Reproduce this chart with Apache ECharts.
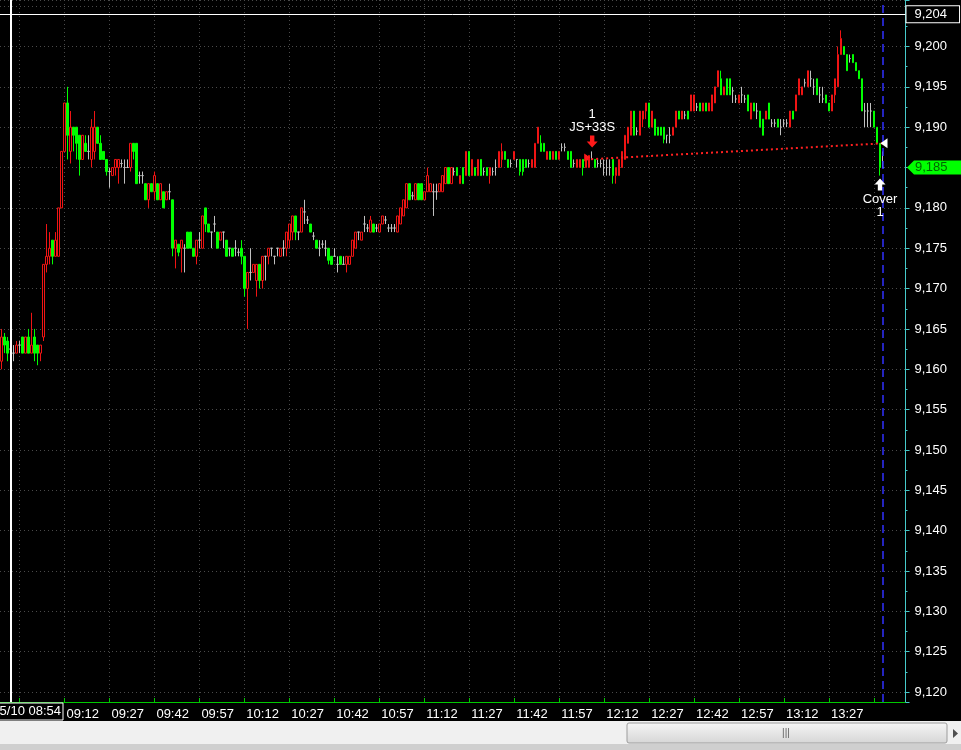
<!DOCTYPE html>
<html>
<head>
<meta charset="utf-8">
<script src="https://cdn.jsdelivr.net/npm/echarts@6/dist/echarts.min.js"></script>
<style>
html,body{margin:0;padding:0;background:#000;}
#chart{width:961px;height:750px;}
</style>
</head>
<body>
<div id="chart"></div>
<script>
// ---- categories: one-minute bars from 08:51, plus empty slots up to the price scale ----
const firstMinute = 8 * 60 + 51;
const barCount = 302;
const times = [];
for (let i = 0; i < barCount; i++) {
  const m = firstMinute + i;
  times.push(String(Math.floor(m / 60)).padStart(2, '0') + ':' + String(m % 60).padStart(2, '0'));
}

// ---- OHLC values (08:51 .. 13:45) ----
const opens = [
 9161,9164,9163.5,9162.5,9162,9162,9163,9164,9162,9164,
 9162,9164,9163,9162,9164,9173,9174,9176,9174,9174,
 9180,9187,9193,9187,9190,9190,9189,9186,9188,9187,
 9186,9187,9190,9188,9187,9186,9184.5,9184,9185,9185,
 9185.5,9185,9185,9185,9188,9188,9184,9184,9183,9181,
 9183,9182,9183,9181,9182,9181,9182,9181,9175,9175.5,
 9175,9175,9177,9177,9175,9174,9176,9175,9180,9178,
 9177,9178,9177,9176,9177,9176,9175,9175,9175,9174.5,
 9175,9174,9170,9172,9172,9171,9173,9171,9174,9174,
 9175,9174,9175,9174,9175,9175,9176,9177,9179,9177,
 9177,9179.5,9178.5,9178,9176.5,9176,9175,9175.5,9175,9175,
 9174,9174,9173,9174,9173,9173,9173,9174,9175,9177,
 9176,9178,9177.5,9177,9178,9177.5,9177,9178,9178.5,9177.5,
 9177.5,9177.5,9177,9178,9179,9180,9183,9181.5,9181,9183,
 9183,9181,9182,9182,9182,9182,9182,9182,9183,9185,
 9183,9184.5,9185,9183,9185,9184,9187,9184,9185,9184,
 9186,9184.5,9185,9184,9184.5,9185,9185,9186,9187,9186,
 9185.5,9186,9186,9186,9186,9186,9185.5,9185,9185,9188,
 9188,9188,9186,9187,9186,9187,9186,9187.5,9187.5,9187,
 9187,9185.5,9185,9185,9186,9185,9185,9186,9186,9185.5,
 9185.5,9185,9185,9185,9186,9184,9184,9185,9186,9188,
 9189,9192,9189.5,9189,9191,9192,9193,9190,9191,9190,
 9190,9190,9189,9189,9189,9190,9192,9191,9191.5,9192,
 9192,9192,9192.5,9193,9192,9193,9192,9192,9193,9195,
 9196,9194,9196,9196,9194.5,9193.5,9193,9194,9193.5,9194,
 9191,9193,9192,9192,9191,9191,9193,9190.5,9190.5,9191,
 9190,9190.5,9190.5,9190,9192,9192,9194,9194,9195.5,9195,
 9196,9195,9196,9194,9193.5,9194,9193,9192,9194,9195,
 9199,9200,9199,9198.5,9199,9198,9197,9196,9192,9192,
 9192,9192,9190,9188,9185
];
const closes = [
 9164,9163,9162,9162.5,9162,9163,9163,9162,9164,9162,
 9163,9162,9162,9163,9173,9174,9175,9174,9176,9180,
 9187,9193,9189,9190,9189,9188,9186,9189,9187,9187,
 9190,9190,9188,9186,9186,9184.5,9184.5,9185,9186,9186,
 9185.5,9185,9185,9188,9187,9183,9184,9184,9181,9183,
 9182,9184,9181,9183,9180,9182,9182,9175,9176,9174.5,
 9176,9175,9175,9175,9174,9176,9176,9179,9178,9177,
 9177,9178,9175,9177,9177,9174,9175,9174,9175,9174.5,
 9174,9170,9172,9172,9173,9173,9171,9174,9174,9175,
 9175,9174,9175,9175,9175,9177,9178,9179,9177,9177,
 9180,9179.5,9178.5,9177,9176.5,9175,9175,9175.5,9175,9173.5,
 9173,9174,9173,9173,9173,9174,9174,9176,9177,9177,
 9177,9178,9177.5,9178.5,9177,9177.5,9178,9179,9178.5,9177.5,
 9177.5,9177.5,9179,9180,9181,9183,9181,9181.5,9183,9181,
 9181,9182,9184,9183,9182,9182,9183,9184,9185,9183,
 9185,9184.5,9184,9184,9183,9187,9184,9186,9184,9186,
 9184,9184.5,9184,9185,9184.5,9185,9187,9187,9186,9185,
 9185.5,9187,9186,9184.5,9184.5,9185,9185.5,9186,9188,9190,
 9187,9187,9187,9186,9187,9186,9187,9187.5,9187.5,9186,
 9185,9185.5,9186,9186,9185,9186.5,9186.5,9186,9185,9185.5,
 9185.5,9185,9185,9185,9184,9185,9186,9187,9189,9190,
 9192,9189,9189.5,9192,9192,9193,9190,9192,9189,9189,
 9189,9188.5,9189,9189,9190,9192,9191,9192,9191.5,9191,
 9194,9194,9192.5,9192,9193,9192,9193,9194,9195,9197,
 9194,9195,9194,9194,9194.5,9193.5,9194,9194,9193.5,9192,
 9193,9192,9192,9190,9189,9192,9191,9190.5,9190.5,9190,
 9190,9190.5,9190.5,9192,9191,9194,9196,9195,9195.5,9197,
 9196,9195,9194,9194,9193.5,9193,9192,9194,9196,9199,
 9201,9199,9197,9198.5,9198,9197,9196,9192,9192,9192,
 9192,9190,9188,9185,9185
];
const lows = [
 9160,9162,9161,9162,9161,9162,9162,9162,9162,9162,
 9162,9161,9160.5,9161,9163.5,9172,9173,9173,9174,9174,
 9180,9187,9186,9185.5,9187,9186,9184,9186,9187,9186,
 9185,9186,9188,9186,9186,9184,9182.5,9184,9184,9183,
 9185,9183,9185,9184.5,9186,9183,9183,9183,9181,9180,
 9182,9181,9181,9181,9180,9181,9181,9174,9172.5,9174,
 9172,9172,9175,9175,9174,9173,9175,9175,9177,9177,
 9175,9177,9175,9176,9175,9174,9174,9174,9174,9174,
 9173,9169,9165,9171,9172,9169,9170,9170,9171,9173,
 9174,9173,9174,9174,9174,9174,9175,9176,9176,9176,
 9177,9178,9178,9177,9176,9175,9174,9175,9174,9173,
 9173,9174,9172,9173,9173,9172,9173,9174,9175,9176,
 9176,9177,9177,9177,9177,9177,9177,9178,9178,9177,
 9177,9177,9177,9178,9179,9180,9181,9181,9181,9181,
 9181,9181,9182,9182,9179,9181,9182,9182,9183,9183,
 9183,9184,9184,9183,9183,9184,9184,9184,9184,9184,
 9184,9184,9184,9183,9184,9184,9185,9185,9186,9185,
 9185,9186,9185,9184,9184,9185,9185,9185,9185,9188,
 9187,9187,9186,9186,9186,9186,9186,9187,9187,9186,
 9185,9185,9185,9185,9184,9185,9185,9186,9185,9185,
 9185,9184,9184,9184,9183,9183,9184,9185,9186,9188,
 9189,9189,9189,9189,9190,9191,9190,9190,9189,9189,
 9189,9188,9188,9188,9189,9190,9191,9191,9191,9191,
 9192,9192,9192,9192,9192,9192,9192,9192,9193,9195,
 9194,9194,9194,9194,9193,9193,9193,9193,9193,9192,
 9191,9192,9191,9190,9189,9191,9191,9190,9190,9190,
 9189,9190,9190,9190,9191,9192,9194,9194,9195,9195,
 9195,9194,9194,9193,9193,9193,9192,9192,9193,9195,
 9199,9199,9197,9198,9198,9197,9196,9192,9190,9190,
 9190,9190,9188,9184,9185
];
const highs = [
 9165,9164.5,9164,9163,9163,9163.5,9163.5,9164,9164,9165,
 9167,9165,9163,9163,9173,9178,9177,9176,9177,9180,
 9187,9193,9195,9192,9190,9190,9189,9189,9189,9189,
 9191,9192,9190,9189,9187,9186,9185,9185,9186,9186,
 9186,9186,9186,9188,9188,9188,9184.5,9184.5,9183,9183,
 9183,9184.5,9183,9183,9182,9182,9183,9181,9176,9175.5,
 9176,9175.5,9177,9177,9175,9176,9177,9179,9180,9178,
 9177,9179,9177,9177,9177,9176,9175,9175,9176,9175,
 9176,9174,9172,9175,9173,9173,9173,9174,9174,9175,
 9175,9174,9175,9175,9176,9177,9178,9179,9179,9177,
 9180,9181,9179,9178,9177,9176,9176,9176,9176,9175,
 9174,9175,9174,9174,9174,9174,9174,9176,9177,9177,
 9177,9179,9178,9179,9178,9178,9178,9179,9179,9178,
 9178,9178,9179,9180,9181,9183,9183,9182,9183,9183,
 9183,9182,9185,9183,9183,9183,9183,9184,9185,9185,
 9185,9185,9185,9184,9185,9187,9187,9186,9185,9186,
 9186,9185,9185,9185,9185,9186,9187,9188,9187,9186,
 9186,9187,9186,9186,9186,9186,9186,9186,9188,9190,
 9189,9188,9187,9187,9187,9187,9187,9188,9188,9187,
 9187,9186,9186,9186,9186,9186.5,9186.5,9187,9186,9186,
 9186,9186,9186,9186,9186,9185,9186,9187,9189,9190,
 9192,9192,9190,9192,9192,9193,9193,9192,9191,9190,
 9190,9190,9189,9190,9190,9192,9192,9192,9192,9192,
 9194,9194,9193,9193,9193,9193,9193,9194,9195,9197,
 9197,9195,9196,9196,9195,9194,9194,9195,9194,9194,
 9193,9193,9193,9192,9191,9192,9193,9191,9191,9191,
 9191,9191,9191,9192,9192,9194,9196,9195,9196,9197,
 9197,9196,9196,9195,9195,9194,9193,9194,9196,9200,
 9202,9200,9199,9199,9199,9198,9197,9196,9193,9193,
 9193,9192,9190,9188,9187
];

// ---- annotations ----
const sessionTime = '08:54';
const dateLabel = '5/10 08:54';
const entryArrowTime = '12:08';
const entryTime = '12:06';
const entryPrice = 9186;
const exitTime = '13:45';
const exitPrice = 9188;
const coverTime = '13:44';
const highLinePrice = 9204;

// ---- axis range (price scale) ----
const yMin = 9118.77;
const yMax = 9205.76;

const candles = opens.map((o, i) => [o, closes[i], lows[i], highs[i]]);
const lastIdx = closes.length - 1;
const lastClose = closes[lastIdx];
const lastTime = times[lastIdx];
const edgeTime = times[times.length - 1];
const fmt = v => Number(v).toLocaleString('en-US');
const FONT = "'Liberation Sans', Arial, sans-serif";

function kOf(index) { return index - 21; }
const isQuarter = idx => { const k = kOf(idx); return k >= -15 && k % 15 === 0 && idx < lastIdx + 3; };

const chart = echarts.init(document.getElementById('chart'), null, { renderer: 'canvas' });
chart.setOption({
  animation: false,
  backgroundColor: '#000',
  textStyle: { fontFamily: FONT },
  grid: { left: -0.5, right: 55.5, top: 0, bottom: 48, containLabel: false },
  xAxis: {
    type: 'category',
    data: times,
    boundaryGap: true,
    axisLine: { show: true, lineStyle: { color: '#00C800', width: 1 } },
    axisTick: { show: true, inside: true, length: 4, alignWithLabel: true, interval: (i) => isQuarter(i), lineStyle: { color: '#00C800' } },
    axisLabel: {
      show: true, color: '#fff', fontSize: 13, fontFamily: FONT, align: 'left', margin: 6,
      padding: [0, 0, 0, 2],
      interval: (i) => { const k = kOf(i); return k >= 0 && k % 15 === 0 && k <= 255; }
    },
    splitLine: { show: true, alignWithLabel: true, interval: (i) => isQuarter(i), lineStyle: { color: '#4a4a4a', type: [1, 3], width: 1 } }
  },
  yAxis: {
    type: 'value',
    position: 'right',
    min: yMin, max: yMax,
    splitNumber: 17, minInterval: 5, maxInterval: 5,
    axisLine: { show: true, lineStyle: { color: '#46CACA' } },
    axisTick: { show: true, length: 4, lineStyle: { color: '#46CACA' } },
    minorTick: { show: true, splitNumber: 2, length: 2, lineStyle: { color: '#46CACA' } },
    axisLabel: {
      color: '#fff', fontSize: 13, fontFamily: FONT, margin: 9,
      formatter: v => (Math.abs(v - Math.round(v / 5) * 5) < 1e-6 && v <= 9200.001 && Math.abs(v - lastClose) > 1e-6) ? fmt(Math.round(v)) : ''
    },
    splitLine: { show: true, lineStyle: { color: '#4a4a4a', type: [1, 3], width: 1 } }
  },
  series: [{
    type: 'candlestick',
    data: candles,
    barWidth: 2,
    itemStyle: {
      color: '#000000', color0: '#00FF00',
      borderColor: '#F01414', borderColor0: '#00FF00', borderColorDoji: '#C0C0C0',
      borderWidth: 1
    },
    markLine: {
      silent: true,
      symbol: ['none', 'none'],
      animation: false,
      data: [
        { xAxis: sessionTime, lineStyle: { color: '#ffffff', width: 2, type: 'solid' }, label: { show: false } },
        { xAxis: lastTime, lineStyle: { color: '#3030FF', width: 1.5, type: [8, 5] }, label: { show: false } },
        { yAxis: highLinePrice, lineStyle: { color: '#ffffff', width: 1, type: 'solid' },
          label: { show: true, position: 'end', distance: 1, formatter: fmt(highLinePrice), color: '#fff', fontSize: 13, fontFamily: FONT,
                   backgroundColor: '#000', borderColor: '#fff', borderWidth: 1, padding: [2, 12, 1, 8], lineHeight: 13 } },
        [ { coord: [entryTime, entryPrice], lineStyle: { color: '#FF2020', width: 2, type: [2, 3] }, label: { show: false } },
          { coord: [exitTime, exitPrice] } ]
      ]
    },
    markPoint: {
      silent: true,
      animation: false,
      data: [
        { coord: [entryArrowTime, highs[times.indexOf(entryArrowTime)]],
          symbol: 'path://M3,0L7,0L7,6L10,6L5,12L0,6L3,6Z', symbolSize: [11, 12], symbolOffset: [0, -10], symbolKeepAspect: false,
          itemStyle: { color: '#FF1A1A' },
          label: { show: true, position: 'top', distance: 1, formatter: '1\nJS+33S', color: '#fff', fontSize: 13, lineHeight: 13, fontFamily: FONT } },
        { coord: [entryTime, entryPrice], symbol: 'path://M0,0L8,5L0,10Z', symbolSize: [6, 8], symbolOffset: [1, -2],
          itemStyle: { color: '#FF1A1A' }, label: { show: false } },
        { coord: [exitTime, exitPrice], symbol: 'path://M0,5L8,0L8,10Z', symbolSize: [7, 10], symbolOffset: [1, 0],
          itemStyle: { color: '#ffffff' }, label: { show: false } },
        { coord: [coverTime, lows[times.indexOf(coverTime)]],
          symbol: 'path://M5,0L10,6L7,6L7,12L3,12L3,6L0,6Z', symbolSize: [11, 12], symbolOffset: [0, 9],
          itemStyle: { color: '#ffffff' },
          label: { show: true, position: 'bottom', distance: 2, formatter: 'Cover\n1', color: '#fff', fontSize: 13, lineHeight: 13, fontFamily: FONT } },
        { coord: [edgeTime, lastClose], symbol: 'path://M0,7L7,0L54,0L54,14L7,14Z', symbolSize: [54, 14], symbolOffset: [30, 0],
          symbolKeepAspect: false,
          itemStyle: { color: '#00FF00' },
          label: { show: true, position: 'insideLeft', distance: 8, formatter: fmt(lastClose), color: '#006400', fontSize: 13, fontFamily: FONT } }
      ]
    }
  }],
  graphic: [
    { type: 'rect', z: 50, shape: { x: -1, y: 703, width: 64, height: 17 }, style: { fill: '#000', stroke: '#fff', lineWidth: 1 } },
    { type: 'text', z: 51, x: 61, y: 711.5, style: { text: dateLabel, fill: '#fff', font: "13px " + FONT, textAlign: 'right', textVerticalAlign: 'middle' } },
    { type: 'rect', z: 50, shape: { x: 0, y: 721, width: 961, height: 29 }, style: { fill: '#F0F0F0' } },
    { type: 'rect', z: 50, shape: { x: 0, y: 744, width: 961, height: 6 }, style: { fill: '#CFCFCF' } },
    { type: 'rect', z: 51, shape: { x: 627, y: 723, width: 320, height: 20, r: 2 },
      style: { fill: new echarts.graphic.LinearGradient(0, 0, 0, 1, [{ offset: 0, color: '#F6F6F6' }, { offset: 1, color: '#D6D6D6' }]), stroke: '#9C9C9C', lineWidth: 1 } },
    { type: 'text', z: 52, x: 786, y: 733, style: { text: '|||', fill: '#606060', font: "10px " + FONT, textAlign: 'center', textVerticalAlign: 'middle' } },
    { type: 'polygon', z: 52, shape: { points: [[953, 729], [958, 733.5], [953, 738]] }, style: { fill: '#505050' } }
  ]
});
</script>
</body>
</html>
